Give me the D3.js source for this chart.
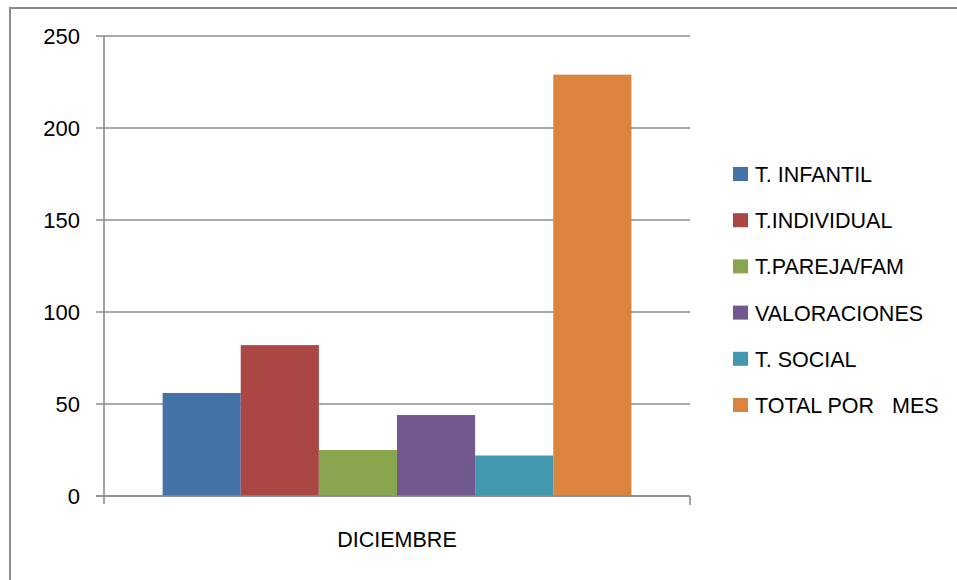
<!DOCTYPE html>
<html>
<head>
<meta charset="utf-8">
<script src="https://cdn.jsdelivr.net/npm/d3@7.9.0/dist/d3.min.js"></script>
<style>
  body { margin: 0; background: #fff; }
  svg text { font-family: "Liberation Sans", Arial, sans-serif; fill: #000; }
</style>
</head>
<body>
<svg id="chart" width="957" height="580"></svg>
<script>
const categories = ["DICIEMBRE"];
const seriesNames = ["T. INFANTIL", "T.INDIVIDUAL", "T.PAREJA/FAM", "VALORACIONES", "T. SOCIAL", "TOTAL POR\u00a0\u00a0 MES"];
const seriesValues = [56, 82, 25, 44, 22, 229];
const seriesColors = ["#4572A7", "#AA4643", "#89A54E", "#71588F", "#4198AF", "#DB843D"];
const yTicks = [0, 50, 100, 150, 200, 250];

const svg = d3.select("#chart");
const plot = { left: 104, right: 690, top: 36, bottom: 496 };

// chart area border (right/bottom edges fall outside the picture)
svg.append("path")
  .attr("d", "M10,580 V8 H957")
  .attr("fill", "none")
  .attr("stroke", "#8c8c8c")
  .attr("stroke-width", 2);

let y = d3.scaleLinear().domain([0, 250]).range([plot.bottom, plot.top]);
let x0 = d3.scaleBand().domain(categories).range([plot.left, plot.right]).paddingInner(0).paddingOuter(0);

// Excel gap width 150% -> bars fill 6/(6+1.5) of the band
let groupW = x0.bandwidth() * 6 / 7.5;
let x1 = d3.scaleBand().domain(seriesNames).range([0, groupW]);

// gridlines
svg.append("g")
  .selectAll("line")
  .data(yTicks)
  .enter()
  .append("line")
  .attr("x1", plot.left - 8)
  .attr("x2", plot.right)
  .attr("y1", d => y(d))
  .attr("y2", d => y(d))
  .attr("stroke", "#8c8c8c")
  .attr("stroke-width", 1.6);

// bars
let g = svg.append("g");
categories.forEach(cat => {
  let gx = x0(cat) + (x0.bandwidth() - groupW) / 2;
  g.selectAll("rect")
    .data(seriesNames.map((s, i) => ({ s, v: seriesValues[i], c: seriesColors[i] })))
    .enter()
    .append("rect")
    .attr("x", d => gx + x1(d.s))
    .attr("width", x1.bandwidth())
    .attr("y", d => y(d.v))
    .attr("height", d => y(0) - y(d.v))
    .attr("fill", d => d.c);
});

// axes lines
svg.append("line")
  .attr("x1", plot.left).attr("x2", plot.left)
  .attr("y1", plot.top).attr("y2", plot.bottom + 8)
  .attr("stroke", "#8c8c8c").attr("stroke-width", 1.6);
svg.append("line")
  .attr("x1", plot.left - 8).attr("x2", plot.right)
  .attr("y1", plot.bottom).attr("y2", plot.bottom)
  .attr("stroke", "#8c8c8c").attr("stroke-width", 1.6);
svg.append("line")
  .attr("x1", plot.right).attr("x2", plot.right)
  .attr("y1", plot.bottom).attr("y2", plot.bottom + 9)
  .attr("stroke", "#8c8c8c").attr("stroke-width", 1.6);

// y labels
svg.append("g")
  .selectAll("text")
  .data(yTicks)
  .enter()
  .append("text")
  .attr("x", 80)
  .attr("y", d => y(d) + 8)
  .attr("text-anchor", "end")
  .attr("font-size", 22)
  .text(d => d);

// x labels
svg.append("g")
  .selectAll("text")
  .data(categories)
  .enter()
  .append("text")
  .attr("x", d => x0(d) + x0.bandwidth() / 2)
  .attr("y", 547)
  .attr("text-anchor", "middle")
  .attr("font-size", 21.5)
  .text(d => d);

// legend
let legend = svg.append("g")
  .selectAll("g")
  .data(seriesNames)
  .enter()
  .append("g")
  .attr("transform", (d, i) => `translate(733, ${167 + i * 46.2})`);

legend.append("rect")
  .attr("width", 15)
  .attr("height", 14)
  .attr("fill", (d, i) => seriesColors[i]);

legend.append("text")
  .attr("x", 22)
  .attr("y", 15)
  .attr("font-size", 21.5)
  .text(d => d);
</script>
</body>
</html>
